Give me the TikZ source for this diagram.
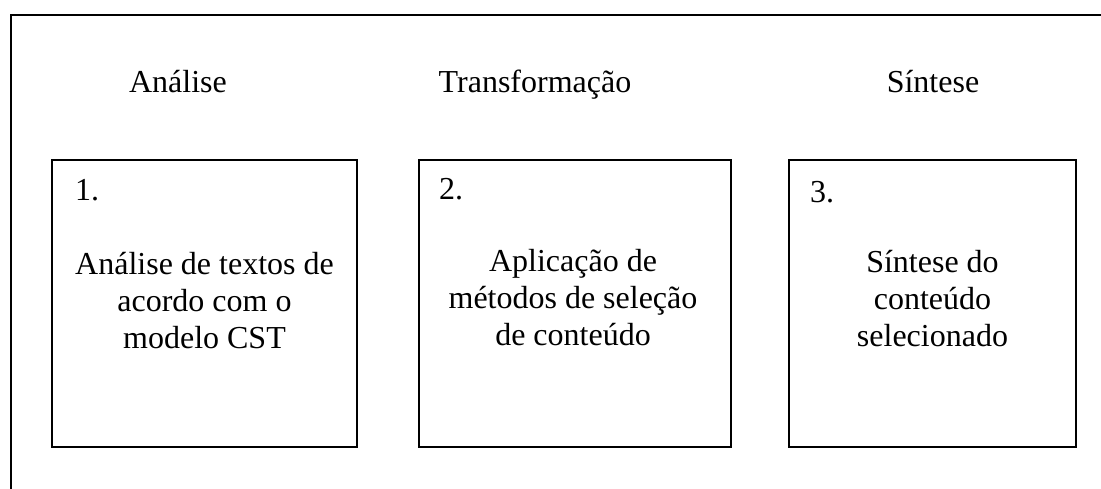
\documentclass[tikz,border=0pt]{standalone}
\usepackage{fontspec}
\setmainfont{Liberation Serif}
\begin{document}
\begin{tikzpicture}[x=1pt,y=-1pt,
  stepbox/.style={draw,line width=1.6pt,rectangle,inner sep=0pt},
  head/.style={font=\fontsize{32}{37}\selectfont,anchor=base,inner sep=0pt},
  num/.style={font=\fontsize{32}{37}\selectfont,anchor=base west,inner sep=0pt},
  body/.style={font=\fontsize{32}{37}\selectfont,align=center,anchor=base,inner sep=0pt}]
\useasboundingbox (0,0) rectangle (1101,488);
\clip (0,0) rectangle (1101,488);
\draw[line width=1.6pt] (11,15) rectangle (1130,520);
\node[stepbox,minimum width=305pt,minimum height=287pt] (b1) at (204.5,303.5) {};
\node[stepbox,minimum width=312pt,minimum height=287pt] (b2) at (575,303.5) {};
\node[stepbox,minimum width=287pt,minimum height=287pt] (b3) at (932.5,303.5) {};
\node[head] (h1) at (178,92) {Análise};
\node[head] (h2) at (535,92) {Transformação};
\node[head] (h3) at (933,92) {Síntese};
\node[num] (n1) at (75,200) {1.};
\node[num] (n2) at (439,199) {2.};
\node[num] (n3) at (810,202) {3.};
\node[body] (t1) at (204.5,348) {Análise de textos de\\acordo com o\\modelo CST};
\node[body] (t2) at (573,345) {Aplicação de\\métodos de seleção\\de conteúdo};
\node[body] (t3) at (932.5,346) {Síntese do\\conteúdo\\selecionado};
\end{tikzpicture}
\end{document}
